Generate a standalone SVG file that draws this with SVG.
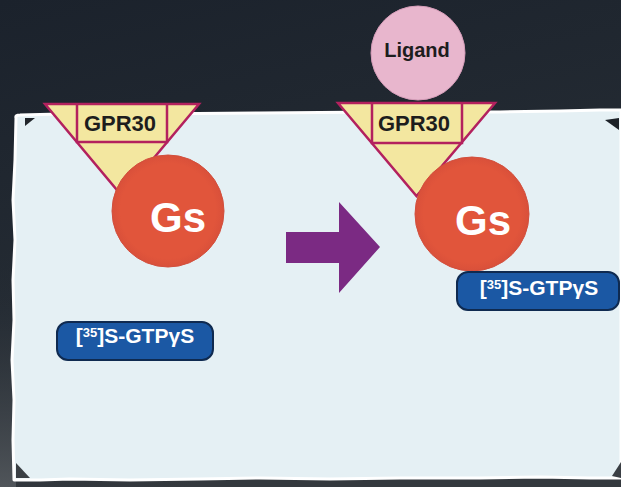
<svg xmlns="http://www.w3.org/2000/svg" width="621" height="487" viewBox="0 0 621 487">
<defs>
<linearGradient id="bg" x1="0" y1="0" x2="0.3" y2="1">
<stop offset="0" stop-color="#1b222c"/>
<stop offset="0.6" stop-color="#242b33"/>
<stop offset="1" stop-color="#34393e"/>
</linearGradient>
<linearGradient id="side" x1="0" y1="0" x2="0" y2="1">
<stop offset="0" stop-color="#242b33" stop-opacity="0"/>
<stop offset="1" stop-color="#50555a"/>
</linearGradient>
<radialGradient id="gs" cx="0.5" cy="0.5" r="0.5">
<stop offset="0.85" stop-color="#e1553b"/>
<stop offset="1" stop-color="#d9503a"/>
</radialGradient>
<style>
.tri{fill:#f3e7a0;stroke:#b3215e;stroke-width:2.5;stroke-linejoin:miter}
.in{fill:none;stroke:#b3215e;stroke-width:2.5}
.gs{fill:url(#gs);stroke:#d24f3d;stroke-width:1}
.lbl{fill:#1b58a4;stroke:#0f2a50;stroke-width:2}
.t{font-family:"Liberation Sans",Arial,sans-serif;font-weight:bold}
.dark{fill:#1d1d1d}
.white{fill:#ffffff}
</style>
</defs>
<rect x="0" y="0" width="621" height="487" fill="url(#bg)"/>
<rect x="0" y="260" width="16" height="227" fill="url(#side)"/>
<!-- paper panel -->
<path d="M16,118 Q15,115 20,115 L60,114 L140,114 L260,113 L380,112 L500,112 L560,111 L600,110 L621,110 L621,478 L590,478 L540,477 L480,478 L400,478 L330,479 L260,478 L200,479 L130,480 L70,479 L40,480 L14,480 L13,440 L14,400 L12,360 L14,320 L13,280 L15,240 L13,200 L15,160 Z" fill="#e5f0f4" stroke="#ffffff" stroke-width="3" stroke-linejoin="round"/>
<polygon points="25,118 35,118 25,126" fill="#22262b"/>
<polygon points="16,463 16,478 30,478" fill="#3a3f44"/>
<polygon points="621,462 621,478 612,476" fill="#3a3f44"/>
<polygon points="605,120 619,118 619,130" fill="#1d2228"/>
<!-- left receptor -->
<g id="gpr30-left">
<polygon class="tri" points="45,104 199,104 122,196"/>
<polyline class="in" points="77,104 77,142 167,142 167,104"/>
<text class="t dark" x="120" y="131" font-size="22" text-anchor="middle">GPR30</text>
</g>
<g id="gs-left">
<circle class="gs" cx="168" cy="211" r="56"/>
<text class="t white" x="178" y="232" font-size="42" text-anchor="middle">Gs</text>
</g>
<g id="gtp-left">
<rect class="lbl" x="57" y="322" width="156" height="38" rx="11"/>
<text class="t white" x="135" y="343" font-size="21" text-anchor="middle">[<tspan font-size="13" dy="-6">35</tspan><tspan dy="6">]S-GTPγS</tspan></text>
</g>
<!-- arrow -->
<g id="connectors">
<polygon points="286,232 339,232 339,202 380,247 339,293 339,263 286,263" fill="#7b2a83"/>
</g>
<!-- right -->
<g id="ligand">
<circle cx="418" cy="53" r="47" fill="#e8b6cd" stroke="#d59cb8" stroke-width="1"/>
<text class="t dark" x="417" y="57" font-size="20" text-anchor="middle">Ligand</text>
</g>
<g id="gpr30-right">
<polygon class="tri" points="338,103 495,103 416.5,196"/>
<polyline class="in" points="372,103 372,143 462,143 462,103"/>
<text class="t dark" x="414" y="131" font-size="22" text-anchor="middle">GPR30</text>
</g>
<g id="gs-right">
<circle class="gs" cx="472" cy="214" r="57"/>
<text class="t white" x="483" y="235" font-size="42" text-anchor="middle">Gs</text>
</g>
<g id="gtp-right">
<rect class="lbl" x="457" y="272" width="162" height="38" rx="11"/>
<text class="t white" x="539" y="295" font-size="21" text-anchor="middle">[<tspan font-size="13" dy="-6">35</tspan><tspan dy="6">]S-GTPγS</tspan></text>
</g>
</svg>
